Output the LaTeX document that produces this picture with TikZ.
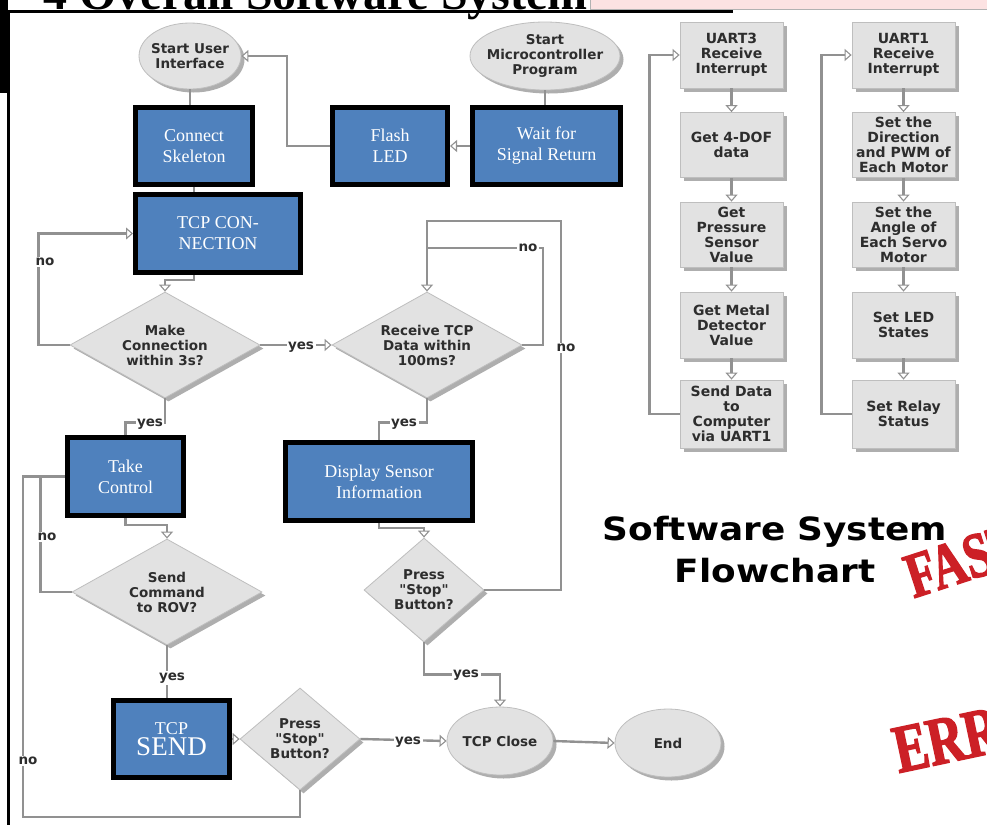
\documentclass[tikz,border=0pt]{standalone}
\usepackage{fontspec}
\setmainfont{Liberation Serif}
\newfontfamily\vfont{DejaVu Sans}
\newfontfamily\vwide{DejaVu Sans}[FakeStretch=1.12]
\newfontfamily\redfont{Liberation Serif}[FakeStretch=0.75,FakeBold=2]
\usetikzlibrary{shapes.geometric,arrows.meta,shadows}
\definecolor{blueC}{RGB}{79,129,189}
\definecolor{boxG}{RGB}{226,226,226}
\definecolor{edgeG}{RGB}{190,190,190}
\definecolor{lineG}{RGB}{145,145,145}
\definecolor{txtC}{RGB}{45,45,45}
\definecolor{pinkC}{RGB}{252,226,226}
\definecolor{redC}{RGB}{204,32,38}
\begin{document}
\begin{tikzpicture}[x=1pt,y=-1pt,
  bluebox/.style={rectangle,fill=blueC,draw=black,line width=5pt,text=white,align=center,inner sep=0pt,font=\fontsize{18}{21}\selectfont},
  vtext/.style={text=txtC,align=center,font=\vfont\bfseries\fontsize{13.5}{15}\selectfont},
  shad/.style={drop shadow={shadow xshift=3.5pt,shadow yshift=-3.5pt,fill=black!45,opacity=0.7}},
  graybox/.style={rectangle,fill=boxG,draw=edgeG,line width=0.8pt,shad,vtext,inner sep=0pt,minimum width=103pt,font=\vfont\bfseries\fontsize{14}{15}\selectfont},
  ell/.style={ellipse,fill=boxG,draw=edgeG,line width=0.8pt,shad,vtext,inner ysep=0pt,inner xsep=-12pt},
  dia/.style={diamond,fill=boxG,draw=edgeG,line width=0.8pt,shad,vtext,inner sep=0pt},
  conn/.style={draw=lineG,line width=2.4pt},
  arr/.style={conn,-{Triangle[length=7pt,width=12pt,fill=white,line width=1.1pt]}},
  lbl/.style={vtext,fill=white,inner sep=1.5pt}]
\useasboundingbox (0,0) rectangle (987,825);
\fill[white] (0,0) rectangle (987,825);
% header remnants
\draw[fill=pinkC,draw=gray!60,line width=0.8pt] (590,-3) rectangle (990,9.5);
\node[anchor=base east,inner sep=0pt,font=\bfseries\fontsize{48}{48}\selectfont] (hdr) at (588,9) {4 Overall Software System};
\fill[black] (9,9.5) rectangle (733,12.5);
\fill[black] (0,0) rectangle (8,93);
\fill[black] (7,10) rectangle (10,825);
% user interface side
\node[ell,minimum width=102pt,minimum height=66pt] (sui) at (190,56) {Start User\\Interface};
\node[ell,minimum width=150pt,minimum height=68pt] (smp) at (545,56) {Start\\Microcontroller\\Program};
\node[bluebox,minimum width=117pt,minimum height=77pt] (cs) at (194,146) {Connect\\Skeleton};
\node[bluebox,minimum width=115pt,minimum height=77pt] (fl) at (390,146) {Flash\\LED};
\node[bluebox,minimum width=148pt,minimum height=77pt] (ws) at (546.5,146) {Wait for\\Signal Return};
\node[bluebox,minimum width=165pt,minimum height=78pt] (tcp) at (218,233.5) {TCP CON-\\NECTION};
\node[dia,aspect=1.8,minimum width=190pt,minimum height=106pt] (mc) at (165,345) {Make\\Connection\\within 3s?};
\node[dia,aspect=1.8,minimum width=190pt,minimum height=106pt] (rt) at (427,345) {Receive TCP\\Data within\\100ms?};
\node[bluebox,minimum width=116pt,minimum height=78pt] (tc) at (125.5,476.5) {Take\\Control};
\node[bluebox,minimum width=187pt,minimum height=78pt] (ds) at (379,481.5) {Display Sensor\\Information};
\node[dia,aspect=1.8,minimum width=190pt,minimum height=106pt] (sc) at (167,592) {Send\\Command\\to ROV?};
\node[dia,aspect=1.15,minimum width=120pt,minimum height=104pt] (ps2) at (424,590) {Press\\"Stop"\\Button?};
\node[bluebox,minimum width=116pt,minimum height=77pt] (ts) at (171.5,739) {TCP\\{\fontsize{27}{27}\selectfont SEND}};
\node[dia,aspect=1.15,minimum width=120pt,minimum height=102pt] (ps1) at (300,739) {Press\\"Stop"\\Button?};
\node[ell,minimum width=106pt,minimum height=68pt] (tcl) at (500,741) {TCP Close};
\node[ell,minimum width=106pt,minimum height=68pt] (fin) at (668,743) {End};
% microcontroller side
\node[graybox,minimum height=66pt] (u3) at (731.5,55) {UART3\\Receive\\Interrupt};
\node[graybox,minimum height=65pt] (g4) at (731.5,145) {Get 4-DOF\\data};
\node[graybox,minimum height=65pt] (gp) at (731.5,234.5) {Get\\Pressure\\Sensor\\Value};
\node[graybox,minimum height=66pt] (gm) at (731.5,325) {Get Metal\\Detector\\Value};
\node[graybox,minimum height=68pt] (sd) at (731.5,414) {Send Data\\to\\Computer\\via UART1};
\node[graybox,minimum height=66pt] (u1) at (903.5,55) {UART1\\Receive\\Interrupt};
\node[graybox,minimum height=65pt] (dir) at (903.5,145) {Set the\\Direction\\and PWM of\\Each Motor};
\node[graybox,minimum height=65pt] (ang) at (903.5,234.5) {Set the\\Angle of\\Each Servo\\Motor};
\node[graybox,minimum height=66pt] (led) at (903.5,325) {Set LED\\States};
\node[graybox,minimum height=68pt] (rel) at (903.5,414) {Set Relay\\Status};
% title and stamps
\node[font=\vwide\bfseries\fontsize{32}{42}\selectfont,align=center,text=black] (title) at (775,550) {Software System\\Flowchart};
\node[rotate=18,text=redC,inner sep=0pt,font=\redfont\bfseries\fontsize{64}{64}\selectfont] (fast) at (964,560) {FAST};
\node[rotate=12,text=redC,inner sep=0pt,font=\redfont\bfseries\fontsize{68}{68}\selectfont] (err) at (947,740) {ERR};
% connectors
\draw[conn] (sui.south) -- (sui.south |- cs.north);
\draw[conn] (cs.south) -- (cs.south |- tcp.north);
\draw[conn] (smp.south) -- (smp.south |- ws.north);
\draw[arr] (ws.west) -- (fl.east);
\draw[arr] (fl.west) -- ++(-43,0) |- (sui.east);
\draw[arr] (cs.south |- tcp.south) -- ++(0,5) -| (mc.north);
\draw[arr] (mc.west) -- ++(-31,0) |- (tcp.west);
\draw[arr] (mc.east) -- (rt.west);
\draw[conn] (rt.east) -| (543,248) -- (428,248);
\draw[arr] (ps2.east) -| (561,221) -| (rt.north);
\draw[conn] (mc.south) -- ++(0,24) -| (tc.north);
\draw[conn] (rt.south) -- ++(0,24) -| (ds.north);
\draw[arr] (tc.south) -- ++(0,7) -| (sc.north);
\draw[arr] (ds.south) -- ++(0,5) -| (ps2.north);
\draw[conn] (sc.west) -- ++(-31,0) |- (tc.west);
\draw[conn] (ps1.south) |- (23,817) |- (tc.west);
\draw[conn] (sc.south) -- (sc.south |- ts.north);
\draw[arr] (ts.east) -- (ps1.west);
\draw[arr] (ps1.east) -- (tcl.west);
\draw[arr] (ps2.south) -- ++(0,32) -| (tcl.north);
\draw[arr] (tcl.east) -- (fin.west);
\draw[arr] (u3.south) -- (g4.north);
\draw[arr] (g4.south) -- (gp.north);
\draw[arr] (gp.south) -- (gm.north);
\draw[arr] (gm.south) -- (sd.north);
\draw[arr] (sd.west) -- ++(-30,0) |- (u3.west);
\draw[arr] (u1.south) -- (dir.north);
\draw[arr] (dir.south) -- (ang.north);
\draw[arr] (ang.south) -- (led.north);
\draw[arr] (led.south) -- (rel.north);
\draw[arr] (rel.west) -- ++(-30,0) |- (u1.west);
% labels
\node[lbl] (l1) at (45,262) {no};
\node[lbl] (l2) at (301,347) {yes};
\node[lbl] (l3) at (528,248) {no};
\node[lbl] (l4) at (566,348) {no};
\node[lbl] (l5) at (150,424) {yes};
\node[lbl] (l6) at (404,424) {yes};
\node[lbl] (l7) at (47,537) {no};
\node[lbl] (l8) at (28,761) {no};
\node[lbl] (l9) at (172,678) {yes};
\node[lbl] (l10) at (408,742) {yes};
\node[lbl] (l11) at (466,675) {yes};
\end{tikzpicture}
\end{document}
